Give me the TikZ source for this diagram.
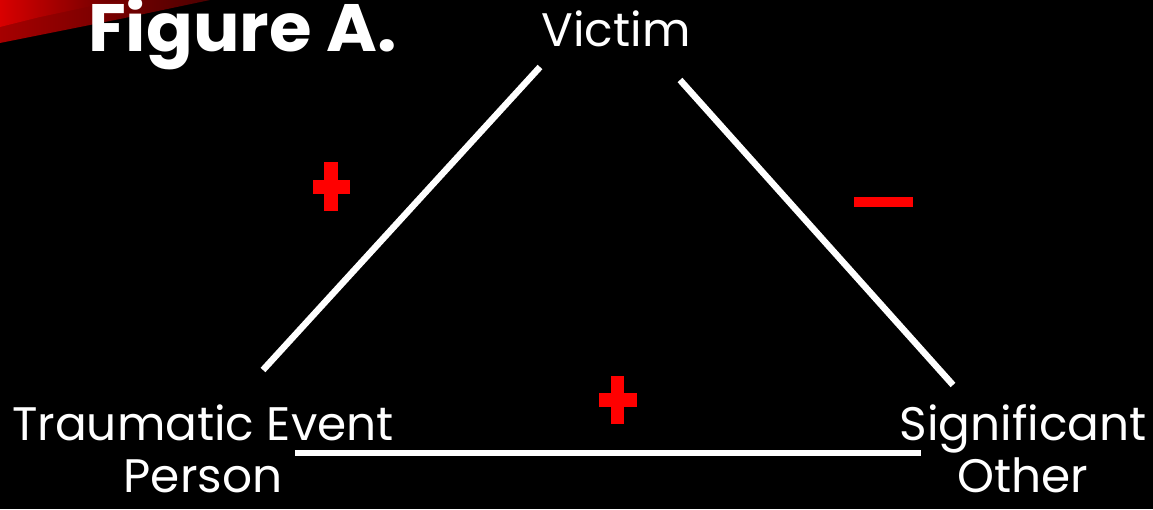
\documentclass[tikz,border=0pt]{standalone}
\usepackage{fontspec}
\setmainfont{Poppins}
\begin{document}
\begin{tikzpicture}[x=1pt,y=1pt,
  lbl/.style={text=white,inner sep=0pt,font=\fontsize{47}{52}\selectfont},
  edge/.style={draw=white,line width=6.5pt},
  sign/.style={fill=red}]
\fill[black] (0,0) rectangle (1153,509);
\useasboundingbox (0,0) rectangle (1153,509);
% red streak
\shade[left color=red!65!black,right color=red!30!black] (0,509) -- (210,509) -- (120,490) -- (0,466) -- cycle;
\shade[left color=red!85!black,right color=red!40!black] (0,509) -- (120,509) -- (40,492) -- (0,482) -- cycle;
% title
\node[anchor=base west,text=white,inner sep=0pt,font=\fontsize{67}{70}\selectfont\bfseries] (title) at (88,457) {\scalebox{1.03}[1]{Figure A.}};
% labels
\node[lbl,anchor=base] (victim) at (616,462) {Victim};
\node[lbl,anchor=base,align=center] (te) at (203,17) {Traumatic Event\\Person};
\node[lbl,anchor=base,align=center] (so) at (1023,17) {Significant\\Other};
% connector endpoints
\coordinate (v1) at (540,442);
\coordinate (t1) at (263,139);
\coordinate (v2) at (680,429);
\coordinate (s1) at (953,124);
\coordinate (t2) at (295,56);
\coordinate (s2) at (921,56);
\draw[edge] (t1) -- (v1);
\draw[edge] (v2) -- (s1);
\draw[edge] (t2) -- (s2);
% signs
\fill[sign] (324,298) rectangle (338,347);
\fill[sign] (313,315) rectangle (350,329);
\fill[sign] (611,85) rectangle (624,133);
\fill[sign] (599,102) rectangle (637,116);
\fill[sign] (854,302) rectangle (913,312);
\end{tikzpicture}
\end{document}
